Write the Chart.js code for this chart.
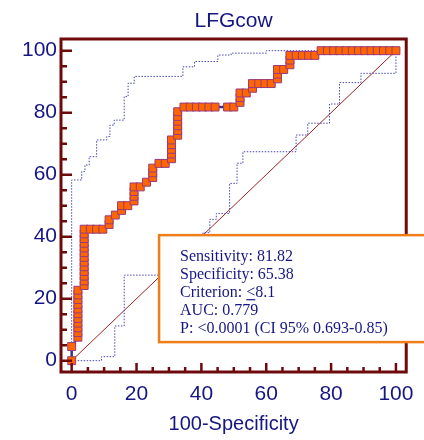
<!DOCTYPE html>
<html><head><meta charset="utf-8">
<script src="https://cdn.jsdelivr.net/npm/chart.js@4/dist/chart.umd.min.js"></script>
<style>html,body{margin:0;padding:0;background:#fff}canvas{display:block}</style>
</head><body>
<canvas id="c" width="424" height="440"></canvas>
<script>
// ---- data ----
const chartTitle = 'LFGcow';
const xAxisTitle = '100-Specificity';
const tickValues = [0, 20, 40, 60, 80, 100];

const rocFpr = [
  0, 0,
  1.92,1.92,1.92,1.92,1.92,1.92,1.92,1.92,1.92,1.92,1.92,
  3.85,3.85,3.85,3.85,3.85,3.85,3.85,3.85,3.85,3.85,3.85,3.85,3.85,
  5.77,7.69,9.62,
  11.54,11.54,13.46,15.38,15.38,17.31,
  19.23,19.23,19.23,19.23,21.15,23.08,
  25.0,25.0,25.0,26.92,28.85,
  30.77,30.77,30.77,30.77,30.77,
  32.69,32.69,32.69,32.69,32.69,32.69,
  34.62,36.54,38.46,40.38,42.31,44.23,48.08,50.0,
  51.92,51.92,51.92,53.85,55.77,55.77,57.69,59.62,61.54,
  63.46,63.46,63.46,65.38,67.31,67.31,67.31,
  69.23,71.15,73.08,75.0,76.92,
  78.85,80.77,82.69,84.62,86.54,88.46,90.38,92.31,94.23,96.15,98.08,100
];
const rocTpr = [
  0, 4.55,
  7.58,9.09,10.61,12.12,13.64,15.15,16.67,18.18,19.70,21.21,22.73,
  24.24,25.76,27.27,28.79,30.30,31.82,33.33,34.85,36.36,37.88,39.39,40.91,42.42,
  42.42,42.42,42.42,
  43.94,45.45,46.97,48.48,50.0,50.0,
  51.52,53.03,54.55,56.06,56.06,57.58,
  59.09,60.61,62.12,63.64,63.64,
  65.15,66.67,68.18,69.70,71.21,
  72.73,74.24,75.76,77.27,78.79,80.30,
  81.82,81.82,81.82,81.82,81.82,81.82,81.82,81.82,
  83.33,84.85,86.36,86.36,87.88,89.39,89.39,89.39,89.39,
  90.91,92.42,93.94,93.94,95.45,96.97,98.48,
  98.48,98.48,98.48,98.48,100,
  100,100,100,100,100,100,100,100,100,100,100,100
];

const upperCiX = [0,0,3.1,3.1,4.1,4.1,5.4,5.4,7.7,7.7,10.8,10.8,11.8,11.8,13.1,13.1,16.2,16.2,17.4,17.4,19.3,19.3,34.3,34.3,37.9,37.9,45.1,45.1,49.2,49.2,60,60,100];
const upperCiY = [0,58.3,58.3,61,61,63.1,63.1,65.8,65.8,71.2,71.2,72.3,72.3,76,76,77.6,77.6,85.2,85.2,89.5,89.5,91.7,91.7,94.8,94.8,96.5,96.5,98.6,98.6,99.2,99.2,100,100];

const lowerCiX = [0,9.2,9.2,13.3,13.3,16.2,16.2,40.5,40.5,42.6,42.6,44.6,44.6,48.7,48.7,51,51,52.8,52.8,69.2,69.2,72.8,72.8,79.5,79.5,82.6,82.6,89.2,89.2,100,100];
const lowerCiY = [0,0,1.3,1.3,11.2,11.2,27.6,27.6,41.3,41.3,45.6,45.6,47.5,47.5,57.2,57.2,63.7,63.7,67.4,67.4,72.8,72.8,76.6,76.6,82.8,82.8,89.7,89.7,92.7,92.7,100];

const refX = [0, 100];
const refY = [0, 100];

const statLabels = ['Sensitivity: ', 'Specificity: ', 'Criterion: ', 'AUC: ', 'P: '];
const statValues = ['81.82', '65.38', '<8.1', '0.779', '<0.0001 (CI 95% 0.693-0.85)'];

// ---- helpers ----
const pts = (xs, ys) => xs.map((x, i) => ({x, y: ys[i]}));
const NAVY = '#161683';
const FRAME = '#6e0a0a';

const framePlugin = {
  id: 'frameTicksBox',
  afterDraw(chart) {
    const ctx = chart.ctx;
    const {left, right, top, bottom} = chart.chartArea;
    const xs = chart.scales.x, ys = chart.scales.y;
    ctx.save();
    ctx.strokeStyle = FRAME;
    ctx.lineWidth = 3;
    ctx.strokeRect(left, top, right - left, bottom - top);
    ctx.lineWidth = 2.5;
    ctx.beginPath();
    xs.ticks.forEach(t => {
      if (t.value < 0 || t.value > 100) return;
      const px = xs.getPixelForValue(t.value);
      const len = (t.value % 20 === 0) ? 9 : 5;
      ctx.moveTo(px, bottom); ctx.lineTo(px, bottom - len);
    });
    ys.ticks.forEach(t => {
      if (t.value < 0 || t.value > 100) return;
      const py = ys.getPixelForValue(t.value);
      const len = (t.value % 20 === 0) ? 11 : 6;
      ctx.moveTo(left, py); ctx.lineTo(left + len, py);
    });
    ctx.stroke();

    // statistics box
    const bx = xs.getPixelForValue(26.95);
    const by = ys.getPixelForValue(40.5);
    const bb = ys.getPixelForValue(6.0);
    ctx.fillStyle = '#ffffff';
    ctx.fillRect(bx, by, chart.width + 20 - bx, bb - by);
    ctx.strokeStyle = '#ee7d1a';
    ctx.lineWidth = 2.5;
    ctx.strokeRect(bx, by, chart.width + 20 - bx, bb - by);

    ctx.fillStyle = NAVY;
    ctx.font = '16px "Liberation Serif", "Times New Roman", serif';
    ctx.textBaseline = 'alphabetic';
    ctx.textAlign = 'left';
    const tx = bx + 21;
    statLabels.forEach((lab, i) => {
      const yb = by + 26 + 18 * i;
      ctx.fillText(lab, tx, yb);
      const w = ctx.measureText(lab).width;
      ctx.fillText(statValues[i], tx + w, yb);
      if (statValues[i].startsWith('<') && lab.startsWith('Criterion')) {
        const lw = ctx.measureText('<').width;
        ctx.fillRect(tx + w, yb + 2, lw, 1.2);
      }
    });
    ctx.restore();
  }
};

new Chart(document.getElementById('c'), {
  type: 'scatter',
  data: {
    datasets: [
      {
        label: 'ROC', data: pts(rocFpr, rocTpr), showLine: true,
        borderColor: '#34348f', borderWidth: 2.5,
        pointStyle: 'rect', pointRadius: 5.6, pointBackgroundColor: '#ff6600',
        pointBorderColor: '#9a3a7a', pointBorderWidth: 1, order: 1
      },
      {
        label: 'upper', data: pts(upperCiX, upperCiY), showLine: true,
        borderColor: '#4848b0', borderWidth: 1, borderDash: [1.5, 1.5],
        pointRadius: 0, order: 2
      },
      {
        label: 'lower', data: pts(lowerCiX, lowerCiY), showLine: true,
        borderColor: '#4848b0', borderWidth: 1, borderDash: [1.5, 1.5],
        pointRadius: 0, order: 3
      },
      {
        label: 'ref', data: pts(refX, refY), showLine: true,
        borderColor: '#9c2020', borderWidth: 1, pointRadius: 0, order: 4
      }
    ]
  },
  options: {
    responsive: false, animation: false, devicePixelRatio: 1,
    layout: {padding: {left: 0, right: 17, top: 0, bottom: 0}},
    plugins: {
      legend: {display: false}, tooltip: {enabled: false},
      title: {
        display: true, text: chartTitle, color: NAVY, fullSize: false,
        font: {family: '"Liberation Sans", Arial, sans-serif', size: 21, weight: 'normal'},
        padding: {top: 8.5, bottom: 5.3}
      }
    },
    scales: {
      x: {
        type: 'linear', min: -3.29, max: 103.17,
        grid: {display: false, drawTicks: false},
        border: {display: false},
        ticks: {
          stepSize: 5, includeBounds: false, autoSkip: false, maxRotation: 0,
          padding: 10, color: NAVY,
          font: {family: '"Liberation Sans", Arial, sans-serif', size: 21},
          callback: v => tickValues.includes(v) ? String(v) : ''
        },
        title: {
          display: true, text: xAxisTitle, color: NAVY,
          font: {family: '"Liberation Sans", Arial, sans-serif', size: 20},
          padding: {top: 0, bottom: 4}
        },
        afterFit: s => { s.height = 68; }
      },
      y: {
        type: 'linear', min: -3.65, max: 103.77,
        grid: {display: false, drawTicks: false},
        border: {display: false},
        ticks: {
          stepSize: 5, includeBounds: false, autoSkip: false,
          padding: 4, color: NAVY,
          font: {family: '"Liberation Sans", Arial, sans-serif', size: 21},
          callback: v => tickValues.includes(v) ? String(v) : ''
        },
        afterFit: s => { s.width = 61; }
      }
    }
  },
  plugins: [framePlugin]
});
</script>
</body></html>
